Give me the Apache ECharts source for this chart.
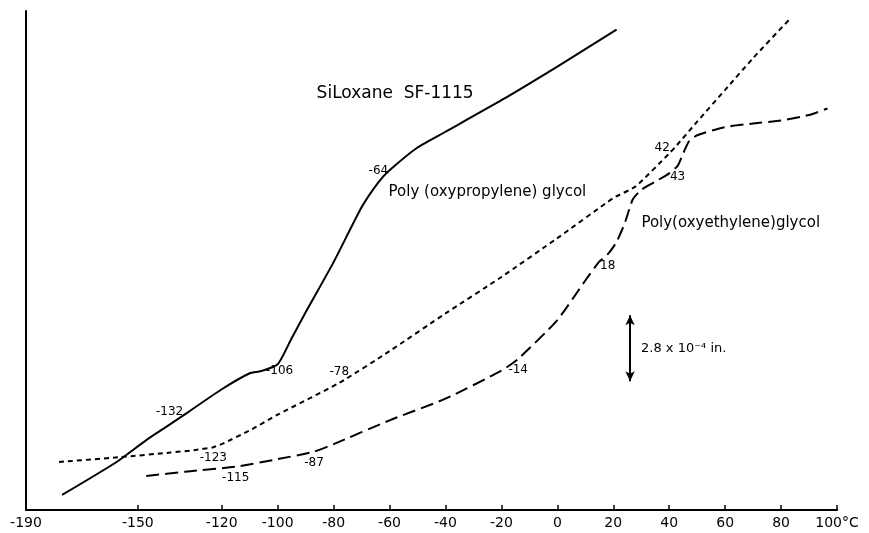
<!DOCTYPE html>
<html>
<head>
<meta charset="utf-8">
<title>Dilatometric curves</title>
<script src="https://cdn.jsdelivr.net/npm/echarts@6/dist/echarts.min.js"></script>
<style>
  html, body { margin: 0; padding: 0; background: #fff; }
  #chart { width: 869px; height: 533px; }
</style>
</head>
<body>
<div id="chart"></div>
<script>
// Temperature axis labels (°C)
const xTicks = [-190, -150, -120, -100, -80, -60, -40, -20, 0, 20, 40, 60, 80, 100];

// Length change, in units of 10^-4 in. above the baseline
const siloxaneTemp = [-177.1, -157.6, -147, -140, -132, -120, -110, -106, -100, -95, -90, -80, -70, -64, -60, -50, -40, -20, 0, 20, 21.2];
const siloxaneExp  = [0.64, 2.04, 2.97, 3.52, 4.16, 5.13, 5.81, 5.90, 6.19, 7.30, 8.40, 10.53, 12.86, 13.92, 14.43, 15.40, 16.07, 17.41, 18.84, 20.32, 20.41];

const propyleneTemp = [-178.2, -155.9, -138.4, -130, -123, -120, -110, -100, -78, -60, -40, -20, 0, 20, 28, 40, 42, 50, 60, 70, 82.9];
const propyleneExp  = [2.04, 2.25, 2.44, 2.54, 2.67, 2.80, 3.38, 4.05, 5.40, 6.75, 8.35, 9.90, 11.55, 13.25, 13.75, 15.15, 15.40, 16.50, 17.85, 19.20, 20.83];

const ethyleneTemp = [-147, -133, -115, -100, -87, -80, -60, -40, -20, -14, 0, 10, 15, 18, 21, 24, 27, 30, 35, 40, 43, 45, 47, 50, 60, 70, 80, 90, 96.6];
const ethyleneExp  = [1.44, 1.63, 1.84, 2.16, 2.48, 2.80, 3.81, 4.73, 5.92, 6.42, 8.07, 9.75, 10.55, 10.86, 11.35, 12.15, 13.20, 13.60, 13.95, 14.30, 14.62, 15.15, 15.65, 15.92, 16.27, 16.42, 16.55, 16.78, 17.06];

// Transition temperatures marked on each curve
const siloxaneMarks  = [-132, -106, -64];
const propyleneMarks = [-123, -78, 42];
const ethyleneMarks  = [-115, -87, -14, 18, 43];

const siloxaneName  = 'SiLoxane  SF-1115';
const propyleneName = 'Poly (oxypropylene) glycol';
const ethyleneName  = 'Poly(oxyethylene)glycol';

// Scale bar length (10^-4 in.)
const scaleBar = 2.8;

const FONT = 'DejaVu Sans';

// where each transition label sits relative to its point
const markLabelStyle = {
  '-132': { position: 'left',   offset: [-1, -8] },
  '-106': { position: 'right',  offset: [0, 4] },
  '-64':  { position: 'top',    offset: [-5, -2] },
  '-123': { position: 'bottom', offset: [-4, 1] },
  '-78':  { position: 'top',    offset: [-8, -2] },
  '42':   { position: 'left',   offset: [-4, -5] },
  '-115': { position: 'bottom', offset: [2, 3] },
  '-87':  { position: 'bottom', offset: [6, 3] },
  '-14':  { position: 'bottom', offset: [9, 2] },
  '18':   { position: 'bottom', offset: [8, 1] },
  '43':   { position: 'bottom', offset: [8, 2] }
};

function buildData(temps, values, marks) {
  return temps.map(function (t, i) {
    if (marks.indexOf(t) < 0) return [t, values[i]];
    const s = markLabelStyle[String(t)];
    return {
      value: [t, values[i]],
      label: {
        show: true,
        formatter: String(t),
        position: s.position,
        offset: s.offset,
        color: '#000',
        fontFamily: FONT,
        fontSize: 12
      }
    };
  });
}

function curve(name, temps, values, marks, dash) {
  return {
    name: name,
    type: 'line',
    data: buildData(temps, values, marks),
    showSymbol: true,
    showAllSymbol: true,
    symbol: 'circle',
    symbolSize: 0,
    smooth: 0.2,
    lineStyle: { color: '#000', width: 2, type: dash },
    itemStyle: { color: '#000' },
    labelLayout: { hideOverlap: false },
    silent: true
  };
}

function nameLabel(text, x, y, size) {
  return {
    coord: [x, y],
    symbol: 'circle',
    symbolSize: 0,
    label: {
      show: true,
      position: 'inside',
      formatter: text,
      color: '#000',
      fontFamily: FONT,
      fontSize: size
    }
  };
}

const siloxane = curve(siloxaneName, siloxaneTemp, siloxaneExp, siloxaneMarks, 'solid');
siloxane.markPoint = { silent: true, data: [nameLabel(siloxaneName, -58, 17.7, 17)] };

const propylene = curve(propyleneName, propyleneTemp, propyleneExp, propyleneMarks, [5, 4]);
propylene.markPoint = { silent: true, data: [nameLabel(propyleneName, -25, 13.5, 15)] };

const ethylene = curve(ethyleneName, ethyleneTemp, ethyleneExp, ethyleneMarks, [13, 6]);
ethylene.markPoint = { silent: true, data: [nameLabel(ethyleneName, 62, 12.2, 15)] };

// vertical scale bar with its caption
const barX = 26, barBase = 5.47;
const scaleSeries = {
  name: 'scale',
  type: 'line',
  data: [],
  silent: true,
  markLine: {
    silent: true,
    symbol: ['arrow', 'arrow'],
    symbolSize: [7, 10],
    label: { show: false },
    lineStyle: { color: '#000', width: 2, type: 'solid' },
    data: [[{ coord: [barX, barBase] }, { coord: [barX, barBase + scaleBar] }]]
  },
  markPoint: {
    silent: true,
    data: [{
      coord: [barX, barBase + scaleBar / 2],
      symbol: 'circle',
      symbolSize: 0,
      label: {
        show: true,
        position: 'right',
        offset: [6, 0],
        formatter: scaleBar.toFixed(1) + ' x 10\u207B\u2074 in.',
        color: '#000',
        fontFamily: FONT,
        fontSize: 13
      }
    }]
  }
};

const chart = echarts.init(document.getElementById('chart'), null, { renderer: 'canvas' });
chart.setOption({
  animation: false,
  backgroundColor: '#fff',
  grid: { left: 26, right: 32, top: 11, bottom: 23, containLabel: false, outerBoundsMode: 'none' },
  xAxis: {
    type: 'value',
    min: -190,
    max: 100,
    splitLine: { show: false },
    axisLine: { show: true, onZero: false, lineStyle: { color: '#000', width: 2 } },
    axisTick: { show: true, inside: true, length: 5, customValues: xTicks, lineStyle: { color: '#000', width: 1.5 } },
    axisLabel: {
      customValues: xTicks,
      color: '#000',
      fontFamily: FONT,
      fontSize: 14,
      margin: 6,
      formatter: function (v) { return v === 100 ? '100°C' : String(v); }
    }
  },
  yAxis: {
    type: 'value',
    min: 0,
    max: 21.2,
    splitLine: { show: false },
    axisLine: { show: true, onZero: false, lineStyle: { color: '#000', width: 2 } },
    axisTick: { show: false },
    axisLabel: { show: false }
  },
  series: [siloxane, propylene, ethylene, scaleSeries]
});
</script>
</body>
</html>
